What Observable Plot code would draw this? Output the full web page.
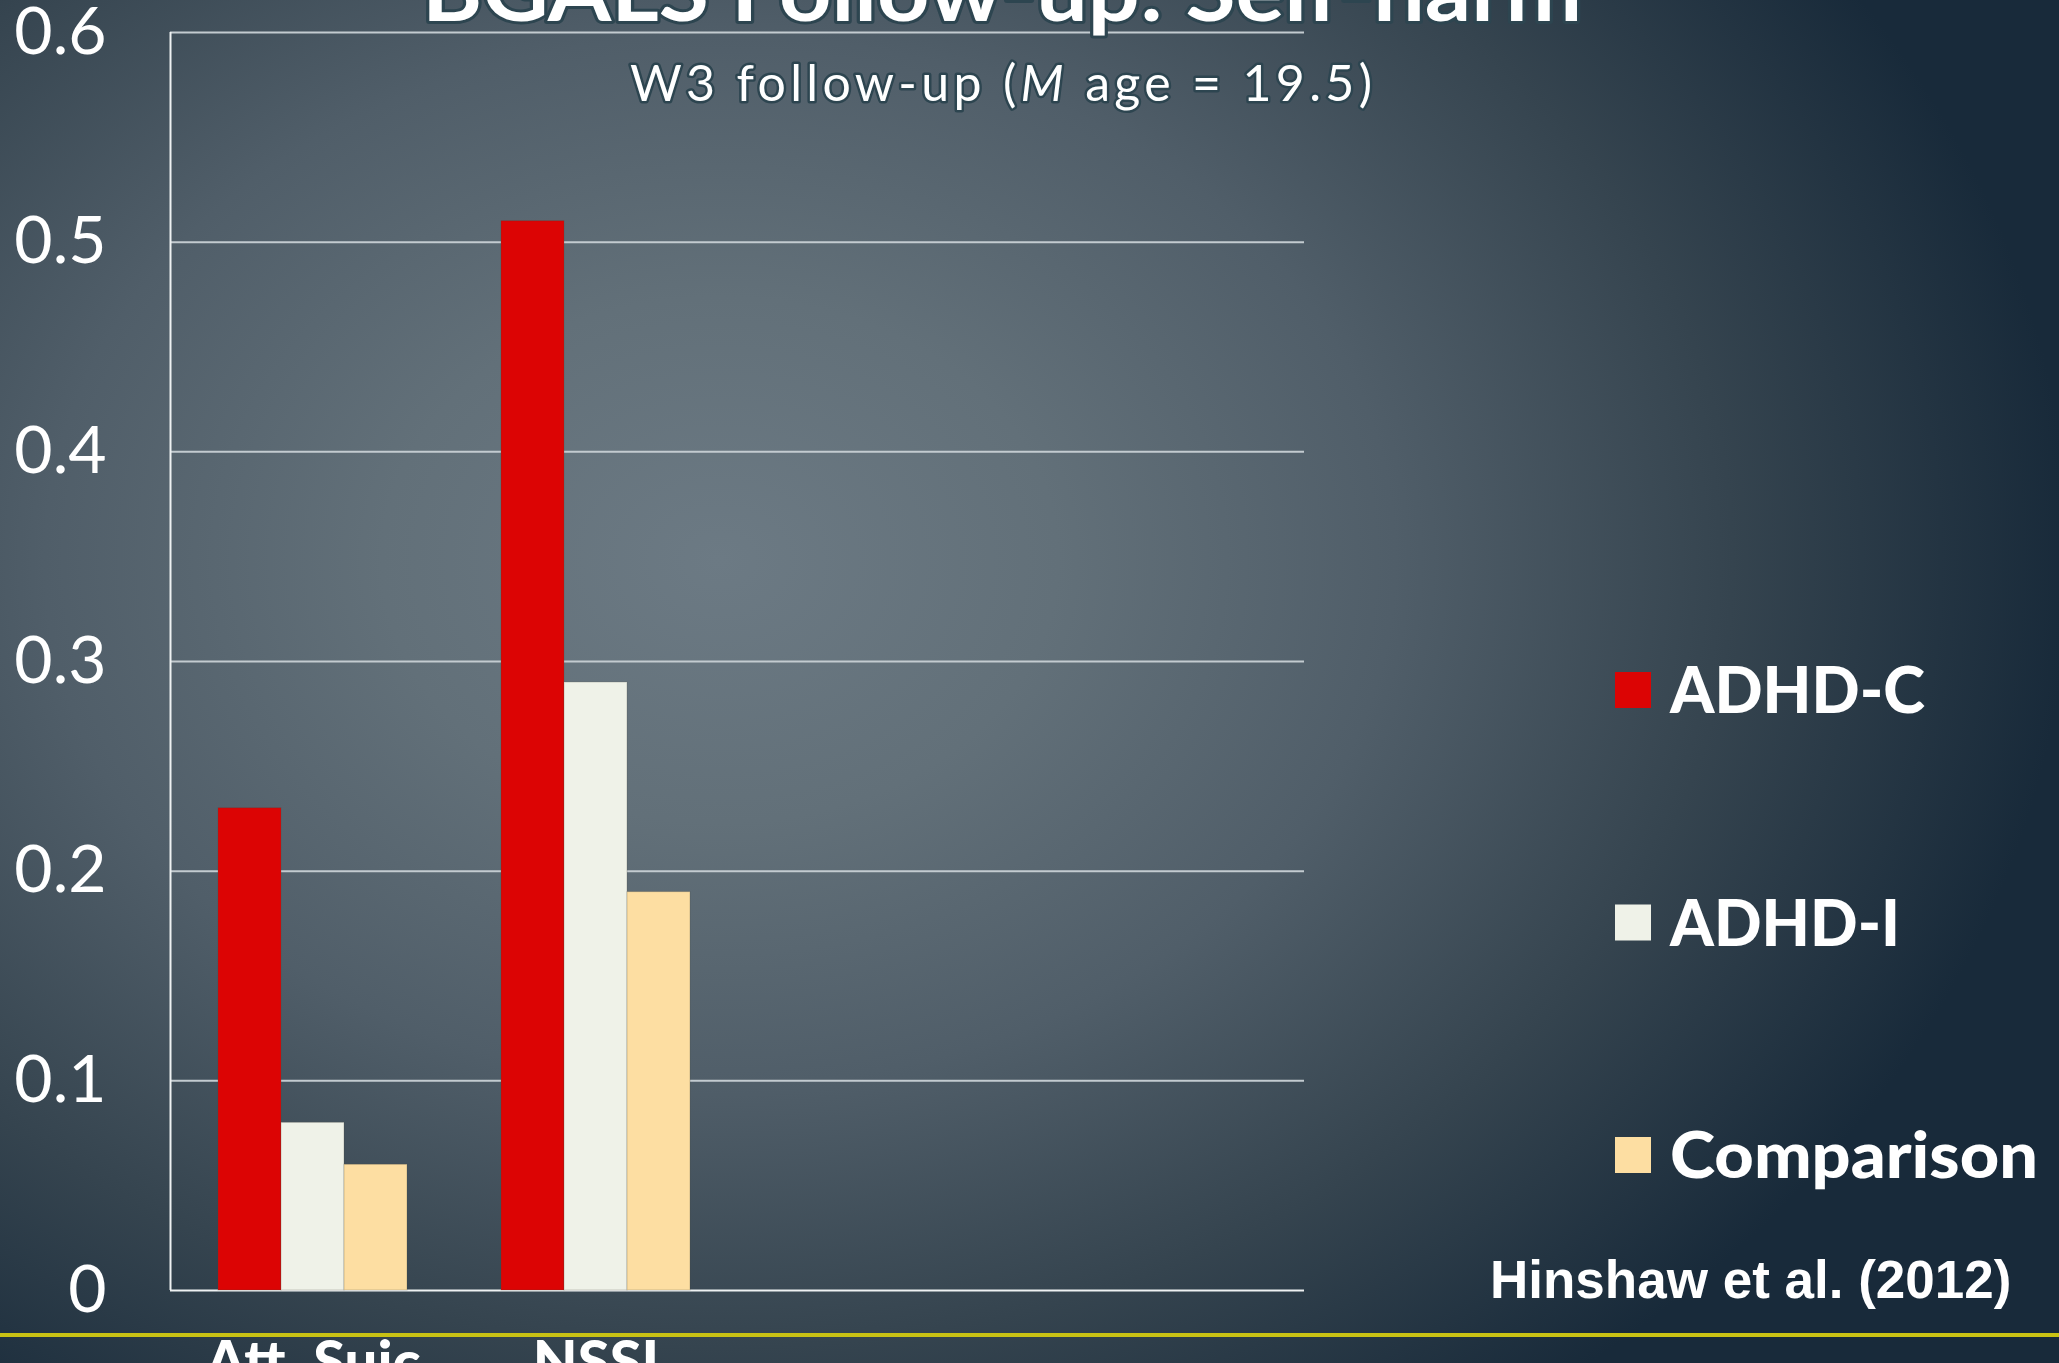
<!DOCTYPE html>
<html>
<head>
<meta charset="utf-8">
<script src="https://cdn.jsdelivr.net/npm/d3@7"></script>
<script src="https://cdn.jsdelivr.net/npm/@observablehq/plot@0.6"></script>
<style>
html, body { margin: 0; padding: 0; width: 2059px; height: 1363px; overflow: hidden; }
body {
  position: relative;
  background: radial-gradient(ellipse 1350px 1050px at 720px 560px,
    #6c7a84 0%, #627079 25%, #505e69 50%, #35444f 75%, #182a3a 100%);
  font-family: Lato, sans-serif;
}
#stage { position: absolute; left: 0; top: 0; width: 2059px; height: 1363px; }
#stage > svg { position: absolute; left: 0; top: 0; }
</style>
</head>
<body>
<div id="stage"></div>
<script>
// ---------- data ----------
const categories = ["Att. Suic", "NSSI"];
const series = ["ADHD-C", "ADHD-I", "Comparison"];
const adhdC = [0.23, 0.51];
const adhdI = [0.08, 0.29];
const comparison = [0.06, 0.19];
const colors = ["#dc0404", "#eff2e8", "#fddea2"];
const yTicks = [0, 0.1, 0.2, 0.3, 0.4, 0.5, 0.6];
const titleText = "BGALS Follow-up: Self-harm";
const subtitleParts = ["W3 follow-up (", "M", " age = 19.5)"];
const captionText = "Hinshaw et al. (2012)";

// ---------- layout ----------
const W = 2059, H = 1363;
const mL = 170, mR = W - 1304, mT = 32, mB = H - 1290;
const slot = (W - mL - mR) / 4;

const valuesBySeries = [adhdC, adhdI, comparison];
const rows = categories.flatMap((c, i) =>
  series.map((s, j) => ({category: c, series: s, value: valuesBySeries[j][i]})));

const stage = document.getElementById("stage");

// Base: grid, axes lines, y tick labels
const base = Plot.plot({
  width: W, height: H,
  marginLeft: mL, marginRight: mR, marginTop: mT, marginBottom: mB,
  style: {background: "transparent", color: "white", fontFamily: "Lato, sans-serif", fontSize: "66px", overflow: "visible"},
  x: {domain: [0, 1], axis: null},
  y: {domain: [0, 0.6], ticks: yTicks, tickSize: 0, tickPadding: 64, tickFormat: d => String(d), label: null},
  marks: [
    Plot.ruleY(yTicks.filter(d => d > 0), {stroke: "#c3cbd0", strokeWidth: 2}),
    Plot.ruleY([0], {stroke: "#eef1f2", strokeWidth: 2}),
    Plot.ruleX([0], {y1: 0, y2: 0.6, stroke: "#eef1f2", strokeWidth: 2})
  ]
});
stage.appendChild(base);

// Bars
const bars = Plot.plot({
  width: W, height: H,
  marginLeft: mL, marginRight: mR, marginTop: mT, marginBottom: mB,
  style: {background: "transparent", color: "white", fontFamily: "Lato, sans-serif", fontSize: "58px", fontWeight: "900", overflow: "visible"},
  facet: {data: rows, x: "category", marginTop: 0, marginBottom: 0, marginLeft: 0, marginRight: 0},
  fx: {domain: categories, range: [mL, mL + 2 * slot], paddingInner: 1 / 3, paddingOuter: 1 / 6,
       tickSize: 0, tickPadding: 50, axis: "bottom", label: null},
  x: {domain: series, padding: 0, axis: null},
  y: {domain: [0, 0.6], axis: null},
  color: {domain: series, range: colors},
  marks: [
    Plot.barY(rows, {x: "series", y: "value", fill: "series", stroke: "rgba(70,70,60,0.25)", strokeWidth: 1})
  ]
});
stage.appendChild(bars);

// Overlay: title, subtitle, legend, caption, accent line
const svg = d3.select(stage).append("svg")
  .attr("width", W).attr("height", H)
  .style("overflow", "visible");

svg.append("rect").attr("x", 0).attr("y", 1333).attr("width", W).attr("height", 4).attr("fill", "#c9c214");

svg.append("text")
  .attr("x", 1002).attr("y", 21)
  .attr("text-anchor", "middle")
  .attr("font-family", "Lato, sans-serif").attr("font-weight", 700).attr("font-size", 84)
  .attr("textLength", 1160).attr("lengthAdjust", "spacingAndGlyphs")
  .attr("fill", "white").attr("stroke", "#2d4550").attr("stroke-width", 6)
  .attr("stroke-linejoin", "round").attr("paint-order", "stroke")
  .text(titleText);

const sub = svg.append("text")
  .attr("x", 1001).attr("y", 101)
  .attr("text-anchor", "middle")
  .attr("font-family", "Lato, sans-serif").attr("font-weight", 400).attr("font-size", 50)
  .attr("textLength", 742).attr("lengthAdjust", "spacing")
  .attr("fill", "white").attr("stroke", "#2d4550").attr("stroke-width", 5)
  .attr("stroke-linejoin", "round").attr("paint-order", "stroke");
subtitleParts.forEach((p, i) => {
  const t = sub.append("tspan").text(p);
  if (i === 1) t.attr("font-style", "italic");
});

// Legend
const legendX = 1615, legendY0 = 690, legendStep = 232.5, sw = 36;
const legendTextWidths = [255, 230, 368];
series.forEach((s, i) => {
  const cy = legendY0 + i * legendStep;
  svg.append("rect").attr("x", legendX).attr("y", cy - sw / 2).attr("width", sw).attr("height", sw).attr("fill", colors[i]);
  svg.append("text")
    .attr("x", 1670).attr("y", cy + 23)
    .attr("font-family", "Lato, sans-serif").attr("font-weight", 900).attr("font-size", 65)
    .attr("textLength", legendTextWidths[i]).attr("lengthAdjust", "spacingAndGlyphs")
    .attr("fill", "white")
    .text(s);
});

// Caption
svg.append("text")
  .attr("x", 1490).attr("y", 1298)
  .attr("font-family", "'Liberation Sans', Arial, sans-serif").attr("font-weight", 700).attr("font-size", 53)
  .attr("fill", "white")
  .text(captionText);
</script>
</body>
</html>
